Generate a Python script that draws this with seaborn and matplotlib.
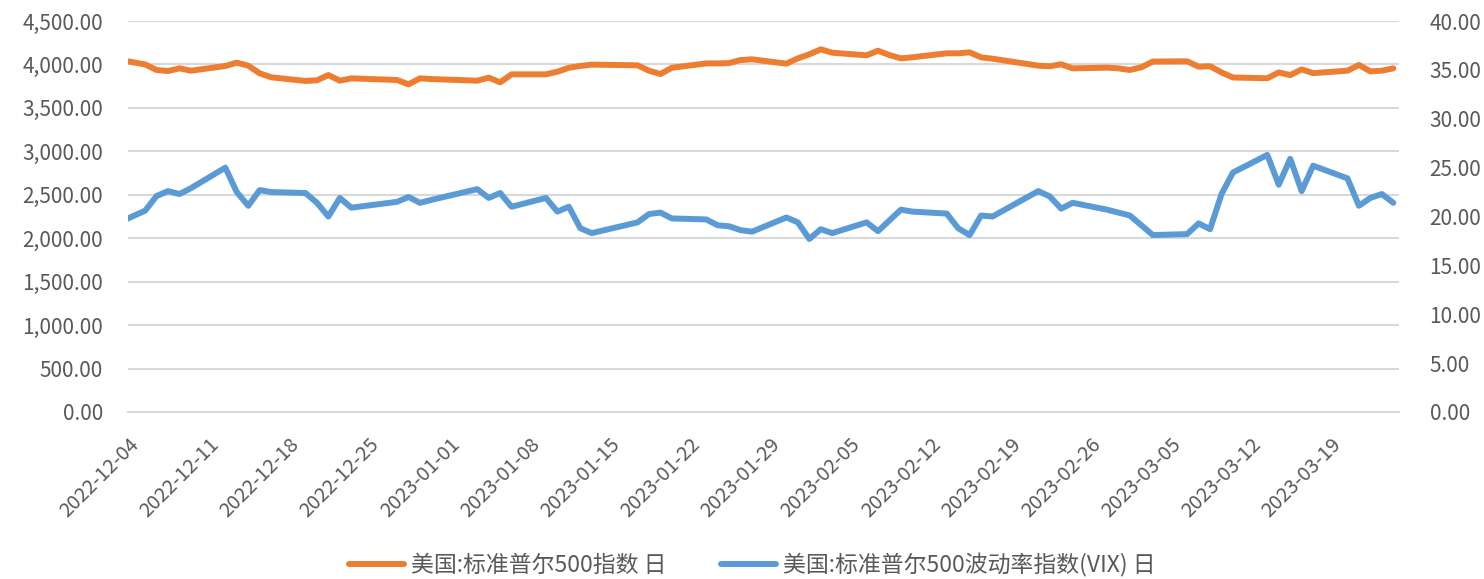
import numpy as np
import pandas as pd
import matplotlib
matplotlib.use("Agg")
import matplotlib.pyplot as plt
import matplotlib.dates as mdates
import matplotlib.ticker as mticker
import matplotlib.transforms as mtransforms
import seaborn as sns

# ---------------------------------------------------------------------------
# data
# ---------------------------------------------------------------------------
dates = [
    "2022-12-02",
    "2022-12-05", "2022-12-06", "2022-12-07", "2022-12-08", "2022-12-09",
    "2022-12-12", "2022-12-13", "2022-12-14", "2022-12-15", "2022-12-16",
    "2022-12-19", "2022-12-20", "2022-12-21", "2022-12-22", "2022-12-23",
    "2022-12-27", "2022-12-28", "2022-12-29", "2022-12-30",
    "2023-01-03", "2023-01-04", "2023-01-05", "2023-01-06",
    "2023-01-09", "2023-01-10", "2023-01-11", "2023-01-12", "2023-01-13",
    "2023-01-17", "2023-01-18", "2023-01-19", "2023-01-20",
    "2023-01-23", "2023-01-24", "2023-01-25", "2023-01-26", "2023-01-27",
    "2023-01-30", "2023-01-31", "2023-02-01", "2023-02-02", "2023-02-03",
    "2023-02-06", "2023-02-07", "2023-02-08", "2023-02-09", "2023-02-10",
    "2023-02-13", "2023-02-14", "2023-02-15", "2023-02-16", "2023-02-17",
    "2023-02-21", "2023-02-22", "2023-02-23", "2023-02-24",
    "2023-02-27", "2023-02-28", "2023-03-01", "2023-03-02", "2023-03-03",
    "2023-03-06", "2023-03-07", "2023-03-08", "2023-03-09", "2023-03-10",
    "2023-03-13", "2023-03-14", "2023-03-15", "2023-03-16", "2023-03-17",
    "2023-03-20", "2023-03-21", "2023-03-22", "2023-03-23", "2023-03-24",
]

spx = [
    4072,
    4000, 3936, 3924, 3955, 3928,
    3982, 4020, 3986, 3898, 3852,
    3810, 3817, 3878, 3813, 3840,
    3821, 3771, 3840, 3832,
    3813, 3848, 3794, 3886,
    3886, 3916, 3962, 3982, 3998,
    3990, 3928, 3890, 3962,
    4012, 4012, 4016, 4051, 4059,
    4009, 4070, 4116, 4174, 4135,
    4105, 4158, 4108, 4070, 4082,
    4128, 4128, 4139, 4082, 4066,
    3986, 3979, 4002, 3955,
    3963, 3955, 3936, 3967, 4033,
    4036, 3974, 3979, 3908, 3850,
    3841, 3908, 3877, 3943, 3900,
    3928, 3994, 3920, 3928, 3955,
]

vix = [
    19.0,
    20.6, 22.1, 22.6, 22.3, 22.9,
    25.0, 22.5, 21.1, 22.7, 22.5,
    22.4, 21.4, 20.0, 21.9, 20.9,
    21.5, 22.0, 21.4, 21.7,
    22.8, 21.9, 22.4, 21.0,
    21.9, 20.5, 21.0, 18.8, 18.3,
    19.4, 20.25, 20.4, 19.8,
    19.7, 19.1, 19.0, 18.6, 18.45,
    19.9, 19.4, 17.7, 18.7, 18.3,
    19.4, 18.5, 19.6, 20.7, 20.5,
    20.3, 18.8, 18.1, 20.1, 20.0,
    22.6, 22.05, 20.8, 21.4,
    20.7, 20.4, 20.1, 19.1, 18.1,
    18.2, 19.3, 18.7, 22.3, 24.5,
    26.3, 23.25, 25.9, 22.6, 25.2,
    23.9, 21.1, 21.9, 22.3, 21.4,
]

label_spx = "美国:标准普尔500指数 日"
label_vix = "美国:标准普尔500波动率指数(VIX) 日"

# ---------------------------------------------------------------------------
# style
# ---------------------------------------------------------------------------
sns.set_theme(style="white")
plt.rcParams["font.family"] = ["Noto Sans CJK SC", "DejaVu Sans"]

ORANGE = "#ED7D31"
BLUE = "#5B9BD5"
GRID = "#D9D9D9"
TEXT = "#595959"

df = pd.DataFrame({"date": pd.to_datetime(dates), "spx": spx, "vix": vix})
# excel date axis puts each point in the middle of its day slot
df["x"] = df["date"] + pd.Timedelta(hours=12)

fig = plt.figure(figsize=(14.84, 5.79), dpi=100)
ax = fig.add_axes([128 / 1484, 1 - 412 / 579, (1399 - 128) / 1484, (412 - 21) / 579])
ax2 = ax.twinx()

sns.lineplot(data=df, x="x", y="spx", ax=ax, color=ORANGE, linewidth=4.3,
             label=label_spx, legend=False)
sns.lineplot(data=df, x="x", y="vix", ax=ax2, color=BLUE, linewidth=4.3,
             label=label_vix, legend=False)

# x axis
ax.set_xlim(pd.Timestamp("2022-12-04"), pd.Timestamp("2023-03-25"))
ticks = pd.date_range("2022-12-04", "2023-03-19", freq="7D")
ax.set_xticks(ticks)
ax.xaxis.set_major_formatter(mdates.DateFormatter("%Y-%m-%d"))
ax.tick_params(axis="x", length=8, width=1.5, color=GRID, labelsize=14.5,
               labelcolor=TEXT, pad=6)
shift = mtransforms.ScaledTranslation(0.08, -0.10, fig.dpi_scale_trans)
for lab in ax.get_xticklabels():
    lab.set_rotation(45)
    lab.set_ha("right")
    lab.set_va("center")
    lab.set_rotation_mode("anchor")
    lab.set_transform(lab.get_transform() + shift)

# y axes
ax.set_ylim(0, 4500)
ax.set_yticks(np.arange(0, 4501, 500))
ax.yaxis.set_major_formatter(mticker.StrMethodFormatter("{x:,.2f}"))
ax.tick_params(axis="y", length=0, labelsize=15, labelcolor=TEXT, pad=18)

ax2.set_ylim(0, 40)
ax2.set_yticks(np.arange(0, 40.1, 5))
ax2.yaxis.set_major_formatter(mticker.StrMethodFormatter("{x:.2f}"))
ax2.tick_params(axis="y", length=0, labelsize=15, labelcolor=TEXT, pad=22)

ax.grid(axis="y", color=GRID, linewidth=1.5)
ax.set_axisbelow(True)
ax.set_xlabel("")
ax.set_ylabel("")
ax2.set_ylabel("")
ax2.grid(False)

for a in (ax, ax2):
    for side in ("top", "left", "right"):
        a.spines[side].set_visible(False)
    a.spines["bottom"].set_color(GRID)
    a.spines["bottom"].set_linewidth(1.5)
ax2.spines["bottom"].set_visible(False)

h1, l1 = ax.get_legend_handles_labels()
h2, l2 = ax2.get_legend_handles_labels()
fig.legend(h1 + h2, l1 + l2, loc="center", bbox_to_anchor=(0.507, 0.024),
           ncol=2, frameon=False, fontsize=16.5, labelcolor=TEXT,
           handlelength=2.4, handletextpad=0.3, columnspacing=2.4)

fig.savefig("out.png", dpi=100)
